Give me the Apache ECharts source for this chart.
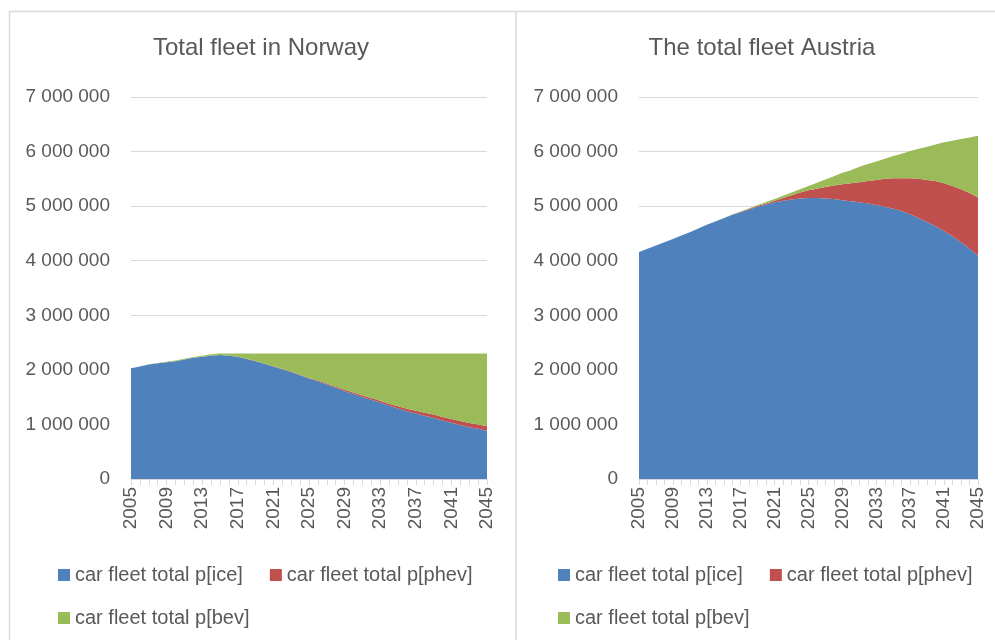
<!DOCTYPE html>
<html>
<head>
<meta charset="utf-8">
<script src="https://cdn.jsdelivr.net/npm/echarts@6/dist/echarts.min.js"></script>
<style>html,body{margin:0;padding:0;background:#fff}#c{width:995px;height:640px}</style>
</head>
<body>
<div id="c"></div>
<script>
const years = ['2005','2006','2007','2008','2009','2010','2011','2012','2013','2014','2015','2016','2017','2018','2019','2020','2021','2022','2023','2024','2025','2026','2027','2028','2029','2030','2031','2032','2033','2034','2035','2036','2037','2038','2039','2040','2041','2042','2043','2044','2045'];

const norwayIce = [2030000,2060000,2100000,2120000,2140000,2160000,2190000,2220000,2240000,2260000,2270000,2260000,2240000,2200000,2160000,2110000,2060000,2010000,1960000,1900000,1840000,1790000,1730000,1670000,1610000,1560000,1500000,1450000,1400000,1340000,1290000,1240000,1200000,1160000,1120000,1070000,1030000,990000,950000,920000,885000];
const norwayPhev = [0,0,0,0,0,0,0,0,0,0,0,0,1000,1000,2000,2000,4000,6000,8000,10000,12000,15000,18000,21000,24000,27000,30000,33000,36000,40000,44000,48000,52000,56000,60000,64000,68000,71000,74000,77000,80000];
const norwayBev = [0,0,3000,5000,7000,10000,12000,15000,20000,25000,30000,40000,59000,99000,138000,188000,236000,284000,332000,390000,448000,495000,552000,609000,666000,713000,770000,817000,864000,920000,966000,1012000,1048000,1084000,1120000,1166000,1202000,1239000,1276000,1303000,1335000];

const austriaIce = [4160000,4220000,4280000,4340000,4400000,4460000,4520000,4590000,4660000,4720000,4780000,4840000,4890000,4940000,4990000,5030000,5070000,5100000,5120000,5140000,5150000,5150000,5140000,5130000,5110000,5090000,5070000,5050000,5020000,4990000,4950000,4910000,4850000,4780000,4710000,4630000,4540000,4450000,4340000,4220000,4090000];
const austriaPhev = [0,0,0,0,0,0,0,0,0,0,0,3000,5000,10000,15000,20000,30000,50000,80000,110000,140000,170000,210000,250000,290000,330000,370000,410000,460000,510000,560000,600000,660000,720000,770000,830000,880000,920000,970000,1020000,1070000];
const austriaBev = [0,0,0,0,0,0,0,0,0,0,3000,5000,8000,10000,15000,25000,30000,40000,50000,60000,80000,110000,140000,170000,210000,240000,280000,310000,340000,370000,410000,450000,500000,550000,610000,670000,750000,830000,920000,1020000,1130000];

const seriesNames = ['car fleet total p[ice]','car fleet total p[phev]','car fleet total p[bev]'];
const colors = ['#4f81bd','#c0504d','#9bbb59'];
const titles = ['Total fleet in Norway','The total fleet Austria'];

const FONT = 'Liberation Sans';
const txt = '#595959';
const grid = '#d9d9d9';

function fmt(v){ return String(v).replace(/\B(?=(\d{3})+(?!\d))/g,' '); }

const panels = [
  {data:[norwayIce,norwayPhev,norwayBev], left:131, right:508, cx:261, legLeft:58},
  {data:[austriaIce,austriaPhev,austriaBev], left:639, right:17, cx:762, legLeft:558}
];

const option = {
  animation:false,
  backgroundColor:'#fff',
  color:colors,
  textStyle:{fontFamily:FONT},
  title: panels.map((p,i)=>({
    text:titles[i], left:p.cx, top:36, textAlign:'center', padding:0,
    textStyle:{fontFamily:FONT,fontSize:24,fontWeight:'normal',color:txt}
  })),
  grid: panels.map(p=>({left:p.left,right:p.right,top:97,bottom:161,containLabel:false})),
  xAxis: panels.map((p,i)=>({
    type:'category', gridIndex:i, data:years, boundaryGap:false,
    axisLine:{lineStyle:{color:grid,width:1}},
    axisTick:{show:true,interval:0,length:6,lineStyle:{color:grid}},
    axisLabel:{interval:3,rotate:90,margin:8,color:txt,fontSize:19,fontFamily:FONT},
    splitLine:{show:false}
  })),
  yAxis: panels.map((p,i)=>({
    type:'value', gridIndex:i, min:0, max:7000000, interval:1000000,
    axisLine:{show:false}, axisTick:{show:false},
    axisLabel:{color:txt,fontSize:19,fontFamily:FONT,margin:21,formatter:fmt},
    splitLine:{lineStyle:{color:grid,width:1}}
  })),
  legend: [].concat(...panels.map(p=>[
    {left:p.legLeft, top:565, padding:0, itemGap:27, itemWidth:12, itemHeight:12, icon:'rect',
     data:seriesNames.slice(0,2), textStyle:{color:txt,fontSize:20,fontFamily:FONT}, selectedMode:false},
    {left:p.legLeft, top:608, padding:0, itemGap:27, itemWidth:12, itemHeight:12, icon:'rect',
     data:seriesNames.slice(2), textStyle:{color:txt,fontSize:20,fontFamily:FONT}, selectedMode:false}
  ])),
  graphic:[
    {type:'rect', shape:{x:9.5,y:11.5,width:1000,height:700}, style:{fill:'none',stroke:'#d9d9d9',lineWidth:1.5}, silent:true},
    {type:'line', shape:{x1:516,y1:11.5,x2:516,y2:660}, style:{stroke:'#d9d9d9',lineWidth:1.5}, silent:true}
  ],
  series: [].concat(...panels.map((p,i)=>p.data.map((d,k)=>({
    name:seriesNames[k], type:'line', xAxisIndex:i, yAxisIndex:i, stack:'s'+i,
    data:d, symbol:'none', showSymbol:false, lineStyle:{width:0},
    areaStyle:{color:colors[k],opacity:1}, itemStyle:{color:colors[k]}
  }))))
};

const chart = echarts.init(document.getElementById('c'),null,{renderer:'canvas'});
chart.setOption(option);
</script>
</body>
</html>
